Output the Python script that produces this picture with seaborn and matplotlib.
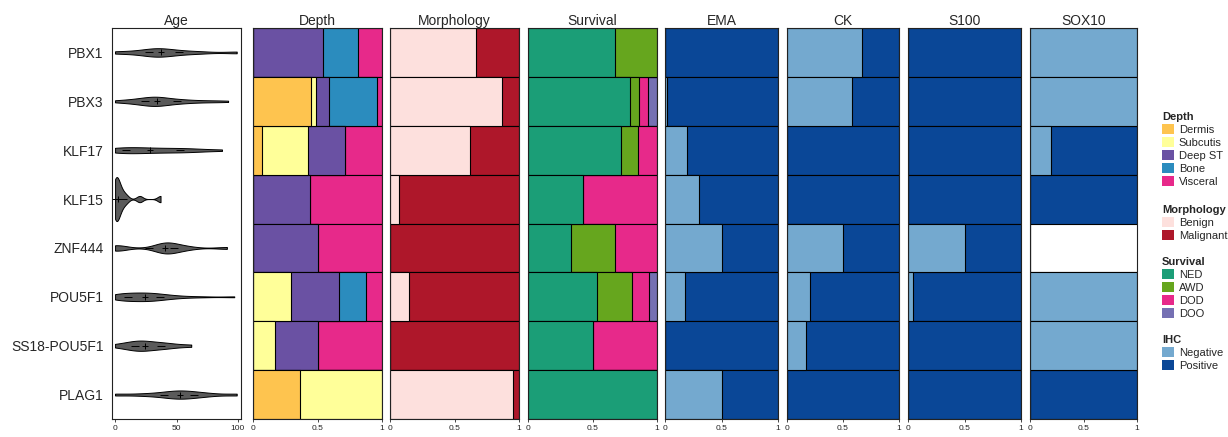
import numpy as np
import pandas as pd
import matplotlib
matplotlib.use('Agg')
import matplotlib.pyplot as plt
from matplotlib.patches import Patch
import seaborn as sns

genes = ['PBX1', 'PBX3', 'KLF17', 'KLF15', 'ZNF444', 'POU5F1', 'SS18-POU5F1', 'PLAG1']

# ages per fusion group
age_pbx1 = [0, 15, 26, 30, 34, 37, 40, 48, 56, 70, 99]
age_pbx3 = [0, 4, 9, 14, 17, 20, 22, 23, 25, 27, 29, 31, 32, 33, 34, 34, 35, 36, 38,
            40, 43, 46, 49, 51, 54, 58, 63, 69, 76, 84, 92]
age_klf17 = [0, 3, 6, 8, 12, 20, 27, 30, 38, 48, 55, 58, 66, 87]
age_klf15 = [0, 0, 0, 1, 1, 2, 3, 4, 6, 9, 20, 37]
age_znf444 = [0, 1, 3, 36, 38, 40, 42, 44, 47, 52, 60, 91]
age_pou5f1 = [0, 1, 3, 5, 7, 9, 11, 14, 17, 19, 21, 23, 25, 27, 29, 31, 33, 36, 39,
              42, 48, 55, 70, 97]
age_ss18 = [0, 10, 14, 17, 20, 23, 25, 30, 37, 40, 47, 62]
age_plag1 = [0, 22, 36, 44, 48, 53, 56, 60, 68, 76, 99]

# proportions per gene (rows in gene order)
depth_levels = ['Dermis', 'Subcutis', 'Deep ST', 'Bone', 'Visceral']
depth_dermis = [0, 0.452, 0.07, 0, 0, 0, 0, 0.362]
depth_subcutis = [0, 0.039, 0.359, 0, 0, 0.292, 0.167, 0.638]
depth_deepst = [0.543, 0.098, 0.287, 0.442, 0.5, 0.375, 0.333, 0]
depth_bone = [0.271, 0.375, 0, 0, 0, 0.209, 0, 0]
depth_visceral = [0.186, 0.036, 0.284, 0.558, 0.5, 0.124, 0.5, 0]

morph_levels = ['Benign', 'Malignant']
morph_benign = [0.665, 0.871, 0.624, 0.072, 0, 0.149, 0, 0.954]
morph_malignant = [0.335, 0.129, 0.376, 0.928, 1, 0.851, 1, 0.046]

surv_levels = ['NED', 'AWD', 'DOD', 'DOO']
surv_ned = [0.671, 0.788, 0.718, 0.43, 0.333, 0.536, 0.503, 1]
surv_awd = [0.329, 0.07, 0.137, 0, 0.338, 0.267, 0, 0]
surv_dod = [0, 0.072, 0.145, 0.57, 0.329, 0.132, 0.497, 0]
surv_doo = [0, 0.07, 0, 0, 0, 0.065, 0, 0]

ihc_levels = ['Negative', 'Positive']
ema_neg = [0, 0.02, 0.198, 0.298, 0.5, 0.174, 0, 0.5]
ema_pos = [1, 0.98, 0.802, 0.702, 0.5, 0.826, 1, 0.5]
ck_neg = [0.666, 0.58, 0, 0, 0.5, 0.207, 0.166, 0]
ck_pos = [0.334, 0.42, 1, 1, 0.5, 0.793, 0.834, 1]
s100_neg = [0, 0, 0, 0, 0.5, 0.04, 0, 0]
s100_pos = [1, 1, 1, 1, 0.5, 0.96, 1, 1]
sox10_neg = [1, 1, 0.2, 0, 0, 1, 1, 0]   # ZNF444 not tested
sox10_pos = [0, 0, 0.8, 1, 0, 0, 0, 1]

depth_colors = ['#FEC44F', '#FFFF99', '#6A51A3', '#2B8CBE', '#E7298A']
morph_colors = ['#FDE0DD', '#AE172A']
surv_colors = ['#1B9E77', '#66A61E', '#E7298A', '#7570B3']
ihc_colors = ['#74A9CF', '#0A4797']

sns.set_theme(style='ticks')
plt.rcParams['font.family'] = ['Liberation Sans', 'DejaVu Sans']
plt.rcParams['axes.edgecolor'] = '#222222'
plt.rcParams['axes.linewidth'] = 0.8

W, H = 1228, 437
fig = plt.figure(figsize=(W / 100, H / 100), dpi=100)

top, bottom = 28, 419
panels = [(112, 241), (253, 382), (390, 519), (528, 657),
          (665, 778), (787, 899), (908, 1021), (1030, 1137)]
axes = [fig.add_axes([l / W, 1 - bottom / H, (r - l) / W, (bottom - top) / H])
        for l, r in panels]


def nrd0(kde):
    # R's default bandwidth, as a factor of the sample sd
    x = kde.dataset[0]
    sd = np.std(x, ddof=1)
    q1, q3 = np.percentile(x, [25, 75])
    bw = 0.9 * min(sd, (q3 - q1) / 1.34) * len(x) ** -0.2
    return bw / sd


ages = dict(zip(genes, [age_pbx1, age_pbx3, age_klf17, age_klf15,
                        age_znf444, age_pou5f1, age_ss18, age_plag1]))
age_df = pd.DataFrame([(g, a) for g in genes for a in ages[g]], columns=['gene', 'age'])

ax = axes[0]
sns.violinplot(data=age_df, x='age', y='gene', order=genes, orient='h', color='#5A5A5A',
               saturation=1, linecolor='black', linewidth=0.7, inner=None, cut=0,
               density_norm='area', width=0.9, bw_method=nrd0, gridsize=200, ax=ax)
for i, g in enumerate(genes):
    q1, med, q3 = np.percentile(ages[g], [25, 50, 75])
    ax.plot([q1, q3], [i, i], ls='none', marker='_', ms=6, mew=0.7, color='black')
    ax.plot([med], [i], ls='none', marker='+', ms=5, mew=0.7, color='black')
ax.set_xlim(-2.5, 102.5)
ax.set_xticks([0, 50, 100])
ax.set_ylim(7.5, -0.5)
ax.set_xlabel('')
ax.set_ylabel('')
ax.tick_params(axis='y', length=0, labelsize=10, pad=6)
ax.set_title('Age', fontsize=10, pad=2)


def stacked(ax, parts, colors):
    cum = np.cumsum(np.array(parts, dtype=float), axis=0)
    for i in range(len(parts) - 1, -1, -1):
        sns.barplot(x=cum[i], y=genes, color=colors[i], orient='h', width=1,
                    saturation=1, edgecolor='black', linewidth=0.8, errorbar=None, ax=ax)


stacked(axes[1], [depth_dermis, depth_subcutis, depth_deepst, depth_bone, depth_visceral], depth_colors)
stacked(axes[2], [morph_benign, morph_malignant], morph_colors)
stacked(axes[3], [surv_ned, surv_awd, surv_dod, surv_doo], surv_colors)
stacked(axes[4], [ema_neg, ema_pos], ihc_colors)
stacked(axes[5], [ck_neg, ck_pos], ihc_colors)
stacked(axes[6], [s100_neg, s100_pos], ihc_colors)
stacked(axes[7], [sox10_neg, sox10_pos], ihc_colors)

titles = ['Depth', 'Morphology', 'Survival', 'EMA', 'CK', 'S100', 'SOX10']
for ax, t in zip(axes[1:], titles):
    ax.set_xlim(0, 1)
    ax.set_ylim(7.5, -0.5)
    ax.set_xticks([0, 0.5, 1])
    ax.set_xticklabels(['0', '0.5', '1'])
    ax.set_yticks([])
    ax.set_xlabel('')
    ax.set_ylabel('')
    ax.set_title(t, fontsize=10, pad=2)

for ax in axes:
    ax.tick_params(axis='x', length=2.5, width=0.6, labelsize=6, pad=2)
    for s in ax.spines.values():
        s.set_visible(True)

legend_specs = [('Depth', depth_levels, depth_colors, 112),
                ('Morphology', morph_levels, morph_colors, 205),
                ('Survival', surv_levels, surv_colors, 257),
                ('IHC', ihc_levels, ihc_colors, 335)]
for title, labels, cols, ytop in legend_specs:
    handles = [Patch(facecolor=c, edgecolor='none') for c in cols]
    fig.legend(handles, labels, title=title, loc='upper left',
               bbox_to_anchor=(1162 / W, 1 - ytop / H), frameon=False, fontsize=8,
               title_fontproperties={'weight': 'bold', 'size': 8}, alignment='left',
               handlelength=1.1, handleheight=1.0, handletextpad=0.4,
               labelspacing=0.2, borderpad=0, borderaxespad=0)

fig.savefig('out.png', dpi=100)
